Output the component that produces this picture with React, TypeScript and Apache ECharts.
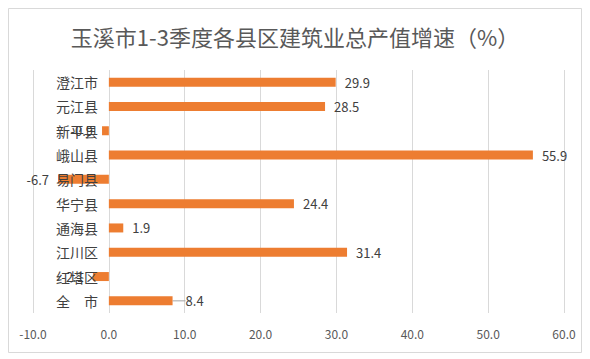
import React, { useEffect, useRef } from "react";
import * as echarts from "echarts";

const title = "玉溪市1-3季度各县区建筑业总产值增速（%）";
const categories = ["澄江市", "元江县", "新平县", "峨山县", "易门县", "华宁县", "通海县", "江川区", "红塔区", "全　市"];
const values = [29.9, 28.5, -0.9, 55.9, -6.7, 24.4, 1.9, 31.4, -2.1, 8.4];
const xMin = -10;
const xMax = 60;
const xInterval = 10;

export default function App() {
  const ref = useRef<HTMLDivElement>(null);
  useEffect(() => {
    if (!ref.current) return;
    const chart = echarts.init(ref.current, null, { renderer: "svg" });
    const font = "'Noto Sans CJK SC', 'Noto Sans', sans-serif";
    chart.setOption({
      animation: false,
      backgroundColor: "#ffffff",
      title: {
        text: title,
        left: "center",
        top: 20,
        textStyle: { fontSize: 22, fontWeight: "normal", color: "#595959", fontFamily: font },
      },
      graphic: [
        {
          type: "rect",
          shape: { x: 8.5, y: 8.5, width: 573, height: 344 },
          style: { fill: "none", stroke: "#d9d9d9", lineWidth: 1 },
          silent: true,
        },
      ],
      grid: { left: 33, right: 26, top: 70, bottom: 46, outerBoundsMode: "none", containLabel: false },
      xAxis: {
        type: "value",
        min: xMin,
        max: xMax,
        interval: xInterval,
        axisLine: { show: false },
        axisTick: { show: false },
        splitLine: { show: true, lineStyle: { color: "#d9d9d9" } },
        axisLabel: {
          color: "#595959",
          fontSize: 12,
          fontFamily: font,
          margin: 14,
          formatter: (v: number) => v.toFixed(1),
        },
      },
      yAxis: {
        type: "category",
        data: categories,
        inverse: true,
        z: 10,
        axisLine: { show: false, onZero: false },
        axisTick: { show: false },
        axisLabel: { color: "#404040", fontSize: 14, fontFamily: font, margin: -65, align: "right" },
      },
      series: [
        {
          type: "bar",
          z: 2,
          barWidth: 9,
          data: values.map((v, i) => ({
            value: v,
            label: { position: v < 0 ? "left" : "right" },
            labelLine: { show: i === values.length - 1 },
          })),
          itemStyle: { color: "#ED7D31" },
          label: {
            show: true,
            distance: 9,
            color: "#404040",
            fontSize: 13,
            fontFamily: font,
            formatter: (p: any) => Number(p.value).toFixed(1),
          },
          labelLayout: (p: any) => (p.dataIndex === values.length - 1 ? { dx: 4 } : {}),
          labelLine: { show: false, lineStyle: { color: "#a6a6a6", width: 1 } },
        },
      ],
    });
    return () => chart.dispose();
  }, []);
  return (
    <div
      ref={ref}
      style={{ position: "fixed", left: 0, top: 0, width: 590, height: 359 }}
    />
  );
}
